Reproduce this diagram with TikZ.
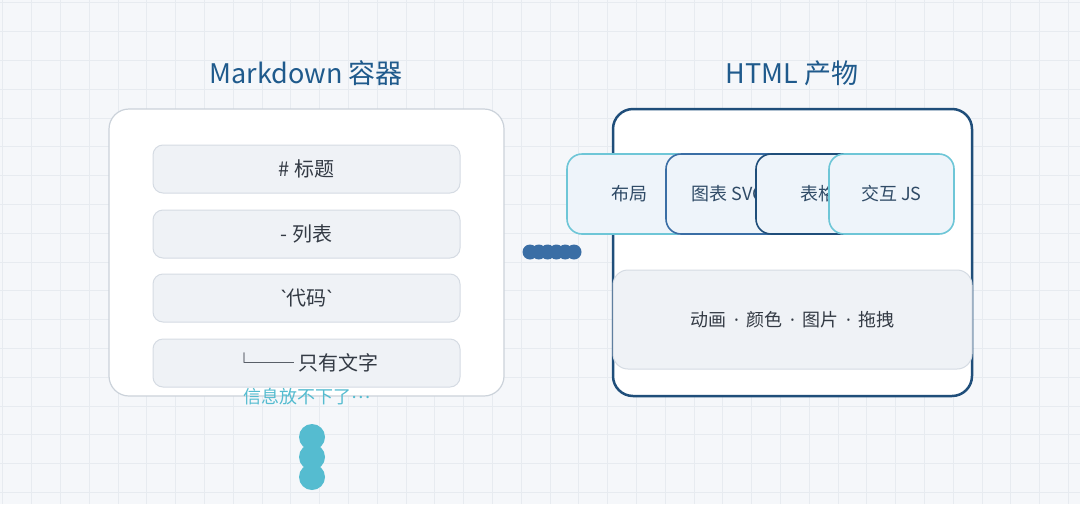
\documentclass[tikz,border=0pt]{standalone}
\usepackage{fontspec}
\setmainfont{Noto Sans CJK SC}
\newfontfamily\latinfont{Noto Sans}
\usepackage{tikz}
\definecolor{bgcol}{HTML}{F5F7FA}
\definecolor{gridcol}{HTML}{E7EBF0}
\definecolor{titlecol}{HTML}{1F5A8C}
\definecolor{mdborder}{HTML}{CBD2DA}
\definecolor{itemfill}{HTML}{EFF2F6}
\definecolor{itemborder}{HTML}{D5DBE3}
\definecolor{inktext}{HTML}{333A44}
\definecolor{tealcol}{HTML}{55BCD0}
\definecolor{dotcol}{HTML}{3A6EA5}
\definecolor{navycol}{HTML}{1F4E7A}
\definecolor{cardfill}{HTML}{EEF4FA}
\definecolor{cardtext}{HTML}{2F4A66}
\newcommand{\mdtext}[1]{\fontsize{10pt}{12pt}\selectfont #1}
\newcommand{\cardfont}{\fontsize{9pt}{11pt}\selectfont}
\newcommand{\tick}{{\latinfont\symbol{96}}}
\newcommand{\middot}{\hspace{0.42em}{\latinfont\symbol{"00B7}}\hspace{0.42em}}

\begin{document}
\begin{tikzpicture}[x=0.5pt,y=-0.5pt,
	title/.style={text=titlecol,font=\fontsize{13.5pt}{15pt}\selectfont},
	mdbox/.style={draw=mdborder,fill=white,rounded corners=10pt,line width=0.6pt},
	item/.style={draw=itemborder,fill=itemfill,rounded corners=5pt,line width=0.5pt,
		minimum width=153.5pt,minimum height=24pt,text=inktext,font=\mdtext{}},
	card/.style={fill=cardfill,rounded corners=7.5pt,line width=0.8pt,
		minimum width=62.5pt,minimum height=40pt,text=cardtext,font=\cardfont},
	bead/.style={circle,fill=#1,inner sep=0pt}]
	\fill[bgcol] (0,0) rectangle (1080,504);
	\useasboundingbox (0,0) rectangle (1080,504);
	\foreach \i in {0,...,37}
		\draw[gridcol,line width=0.4pt] ({2.7+28.8*\i},0) -- ({2.7+28.8*\i},504);
	\foreach \j in {0,...,17}
		\draw[gridcol,line width=0.4pt] (0,{2.7+28.8*\j}) -- (1080,{2.7+28.8*\j});
	%
	\node[title] (mdtitle) at (306,73) {Markdown 容器};
	\node[title] (htmltitle) at (792,73) {HTML 产物};
	%
	\node[mdbox,minimum width=197.5pt,minimum height=143.5pt] (md) at (306.5,252.5) {};
	\node[item] (h1) at (306.5,169) {\# 标题};
	\node[item] (list) at (306.5,234) {- 列表};
	\node[item] (code) at (306.5,298) {\tick 代码\tick};
	\node[item] (plain) at (306.5,363) {└── 只有文字};
	\node[anchor=west,text=tealcol,inner sep=0pt,font=\fontsize{9pt}{10pt}\selectfont] (overflow) at (243,397) {信息放不下了\raisebox{0.3em}{…}};
	\foreach \k/\y in {1/437,2/457,3/477}
		\node[bead=tealcol,minimum size=13pt] (drip\k) at (312,\y) {};
	%
	\foreach \k in {0,...,5}
		\node[bead=dotcol,minimum size=7.5pt] (dot\k) at ({530+8.8*\k},252) {};
	%
	\node[draw=navycol,fill=white,rounded corners=10pt,line width=1.25pt,
		minimum width=179.5pt,minimum height=143.5pt] (html) at (792.5,252.5) {};
	\node[card,draw=tealcol!85] (layout) at (629.5,194) {布局};
	\node[card,draw=dotcol] (chart) at (728.5,194) {图表 SVG};
	\node[card,draw=navycol] (table) at (818.5,194) {表格};
	\node[card,draw=tealcol!85] (js) at (891.5,194) {交互 JS};
	\node[draw=itemborder,fill=itemfill,rounded corners=7.5pt,line width=0.5pt,
		minimum width=179.5pt,minimum height=49.5pt,text=inktext,font=\cardfont] (extra) at (792.5,319.5) {动画\middot 颜色\middot 图片\middot 拖拽};
\end{tikzpicture}
\end{document}
